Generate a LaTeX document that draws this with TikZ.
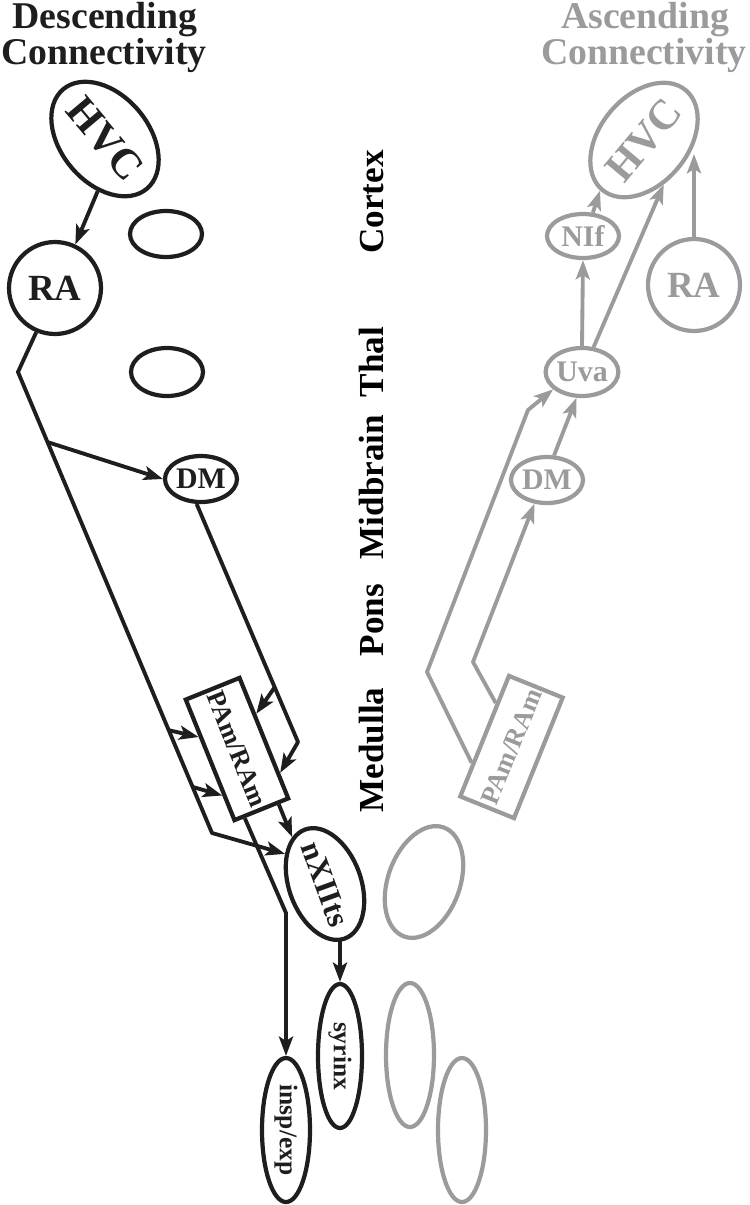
\documentclass[tikz,border=0pt]{standalone}
\usepackage{fontspec}
\setmainfont{Liberation Serif}
\usepackage{tikz}
\usetikzlibrary{shapes.geometric, arrows.meta, calc, positioning}
\definecolor{dcol}{RGB}{30,30,30}
\definecolor{acol}{RGB}{155,155,155}
\newcommand{\nucfont}[1]{\bfseries\fontsize{#1}{#1}\selectfont}
\tikzset{
  nucleus/.style={ellipse, draw, line width=2.4pt, inner sep=0pt, font=\nucfont{17}},
  boxnuc/.style={rectangle, draw, line width=2.4pt, inner sep=0pt, fill=white,
    minimum width=2.6cm, minimum height=1.16cm, font=\nucfont{15}},
  tract/.style={line width=2.2pt, line join=round, -{Stealth[length=11pt,width=8pt,inset=2.5pt]}},
  level/.style={rotate=90, anchor=base, font=\nucfont{20}},
  heading/.style={anchor=base, font=\nucfont{21.5}}
}

\begin{document}
\begin{tikzpicture}[x=0.02cm, y=-0.02cm]
  \useasboundingbox (0,0) rectangle (750,1205);

  % column headings
  \node[heading, dcol] (dtop) at (105,28) {Descending};
  \node[heading, dcol] (dbot) at (104,64) {Connectivity};
  \node[heading, acol] (atop) at (645,28) {Ascending};
  \node[heading, acol] (abot) at (644,64) {Connectivity};

  % brain levels
  \node[level] (lctx) at (383,202) {Cortex};
  \node[level] (lthal) at (383,362) {Thal};
  \node[level] (lmid) at (383,487) {Midbrain};
  \node[level] (lpons) at (383,620) {Pons};
  \node[level] (lmed) at (383,750) {Medulla};

  % descending side
  \begin{scope}[dcol]
    \node[nucleus, minimum width=2.6cm, minimum height=1.76cm, rotate=-50, font=\nucfont{24}] (dHVC) at (105,139) {\makebox[0pt]{HVC}};
    \node[nucleus, circle, minimum size=1.84cm, font=\nucfont{21}] (dRA) at (55,288) {RA};
    \node[nucleus, minimum width=1.44cm, minimum height=0.92cm] (dCtx) at (166,234) {};
    \node[nucleus, minimum width=1.44cm, minimum height=0.96cm] (dThal) at (167,372) {};
    \node[nucleus, minimum width=1.44cm, minimum height=0.92cm] (dDM) at (201,479) {DM};
    \node[boxnuc, rotate=-68] (dPR) at (237,749) {PAm/RAm};
    \node[nucleus, minimum width=2.32cm, minimum height=1.44cm, rotate=-70, font=\nucfont{18}] (dNXII) at (325,884) {\makebox[0pt]{nXIIts}};
    \node[nucleus, minimum width=2.88cm, minimum height=0.88cm, rotate=-90, font=\nucfont{14.5}] (dSyr) at (340,1056) {syrinx};
    \node[nucleus, minimum width=2.88cm, minimum height=0.96cm, rotate=-90, font=\nucfont{14.5}] (dInsp) at (286,1130) {insp/exp};

    \coordinate (raKnee) at (18,372);
    \coordinate (raFoot) at (212,833);
    \coordinate (dmFoot) at (298,742);
    \coordinate (inspKnee) at (286,913);

    \draw[tract] (dHVC.312) -- (dRA.65);
    % RA tract down to nXIIts, with side branches
    \draw[tract] (dRA.247) -- (raKnee) -- (raFoot) -- (dNXII.213);
    \draw[tract] ($(raKnee)!0.152!(raFoot)$) -- (dDM.west);
    \draw[tract] ($(raKnee)!0.777!(raFoot)$) -- ($(dPR.south west)!0.31!(dPR.south east)$);
    \draw[tract] ($(raKnee)!0.9!(raFoot)$) -- ($(dPR.south west)!0.78!(dPR.south east)$);
    % DM to PAm/RAm
    \draw[tract] (dDM.260) -- (dmFoot) -- ($(dPR.north west)!0.785!(dPR.north east)$);
    \draw[tract] ($(dDM.260)!0.77!(dmFoot)$) -- ($(dPR.north west)!0.31!(dPR.north east)$);
    % brainstem outputs
    \draw[tract] ($(dPR.south east)!0.79!(dPR.north east)$) -- (dNXII.195);
    \draw[tract] ($(dPR.south east)!0.2!(dPR.north east)$) -- (inspKnee) -- (dInsp.west);
    \draw[tract] (dNXII.east -| dSyr.west) -- (dSyr.west);
  \end{scope}

  % ascending side
  \begin{scope}[acol]
    \node[nucleus, minimum width=2.6cm, minimum height=1.76cm, rotate=50, font=\nucfont{24}] (aHVC) at (644,140) {\makebox[0pt]{HVC}};
    \node[nucleus, circle, minimum size=1.84cm, font=\nucfont{21}] (aRA) at (694,285) {RA};
    \node[nucleus, minimum width=1.44cm, minimum height=0.88cm] (aNIf) at (583,236) {NIf};
    \node[nucleus, minimum width=1.44cm, minimum height=0.96cm] (aUva) at (582,372) {Uva};
    \node[nucleus, minimum width=1.44cm, minimum height=0.92cm] (aDM) at (547,480) {DM};
    \node[boxnuc, rotate=68] (aPR) at (511.5,747) {PAm/RAm};
    \node[nucleus, minimum width=2.32cm, minimum height=1.44cm, rotate=70] (aNXII) at (424,882) {};
    \node[nucleus, minimum width=2.88cm, minimum height=0.96cm, rotate=90] (aSyr) at (410,1055) {};
    \node[nucleus, minimum width=2.88cm, minimum height=0.96cm, rotate=90] (aInsp) at (462,1130) {};

    \coordinate (uvaKnee) at (427,672);
    \coordinate (uvaBend) at (528,410);
    \coordinate (dmKnee) at (473,662);

    \draw[tract] ($(aPR.north west)!0.28!(aPR.north east)$) -- (uvaKnee) -- (uvaBend) -- (aUva.211);
    \draw[tract] ($(aPR.north west)!0.76!(aPR.north east)$) -- (dmKnee) -- (aDM.242);
    \draw[tract] (aDM.74) -- (aUva.258);
    \draw[tract] (aUva.north) -- (aNIf.south);
    \draw[tract] (aUva.65) -- (aHVC.244);
    \draw[tract] (aNIf.67) -- (aHVC.179);
    \draw[tract] (aRA.north) -- (aRA.north |- aHVC.293);
  \end{scope}
\end{tikzpicture}
\end{document}
